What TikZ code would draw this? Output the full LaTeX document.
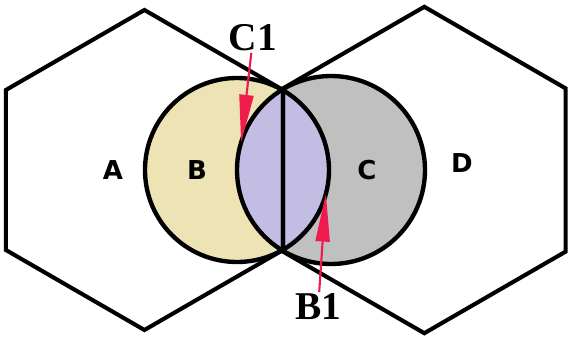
\documentclass[tikz,border=0pt]{standalone}
\usepackage{fontspec}
\setmainfont{Liberation Serif}
\setsansfont{DejaVu Sans}
\usetikzlibrary{arrows.meta,shapes.geometric}
\definecolor{sand}{HTML}{EDE3B4}
\definecolor{lilac}{HTML}{C3BDE4}
\definecolor{ash}{HTML}{C0C0C0}
\definecolor{crimson}{HTML}{EE1B4C}

\begin{document}
\begin{tikzpicture}[
  hexa/.style={draw=black, line width=2.9pt, regular polygon, regular polygon sides=6, shape border rotate=30, inner sep=0pt, outer sep=0pt},
  ring/.style={draw=black, line width=3.1pt, circle, inner sep=0pt, outer sep=0pt},
  zone/.style={font=\sffamily\bfseries\fontsize{18.5}{20}\selectfont},
  tag/.style={font=\bfseries\fontsize{28}{30}\selectfont, inner sep=1pt},
  pointer/.style={-{Triangle[length=34pt, width=10pt]}, crimson, line width=1.5pt}
]
\useasboundingbox (-7.075,-4.2) rectangle (7.15,4.25);

% circle fills and the overlap
\fill[sand] (-1.15,0) circle (2.3);
\fill[ash] (1.2,0) circle (2.35);
\begin{scope}
  \clip (-1.15,0) circle (2.3);
  \fill[lilac] (1.2,0) circle (2.35);
\end{scope}

% cells
\node[hexa, minimum size=8cm] (hexL) at (-3.464,0) {};
\node[hexa, minimum size=8.16cm] (hexR) at (3.533,0) {};

% coverage circles
\node[ring, minimum size=4.6cm] (cB) at (-1.15,0) {};
\node[ring, minimum size=4.7cm] (cC) at (1.2,0) {};

% zone letters
\node[zone] (a) at (-4.25,0) {A};
\node[zone] (b) at (-2.15,0) {B};
\node[zone] (c) at (2.1,0) {C};
\node[zone] (d) at (4.47,0.18) {D};

% boundary tags
\node[tag] (c1) at (-0.75,3.3) {C1};
\node[tag] (b1) at (0.88,-3.42) {B1};
\draw[pointer] (c1) -- (cC.163);
\draw[pointer] (b1) -- (cB.-15);
\end{tikzpicture}
\end{document}
